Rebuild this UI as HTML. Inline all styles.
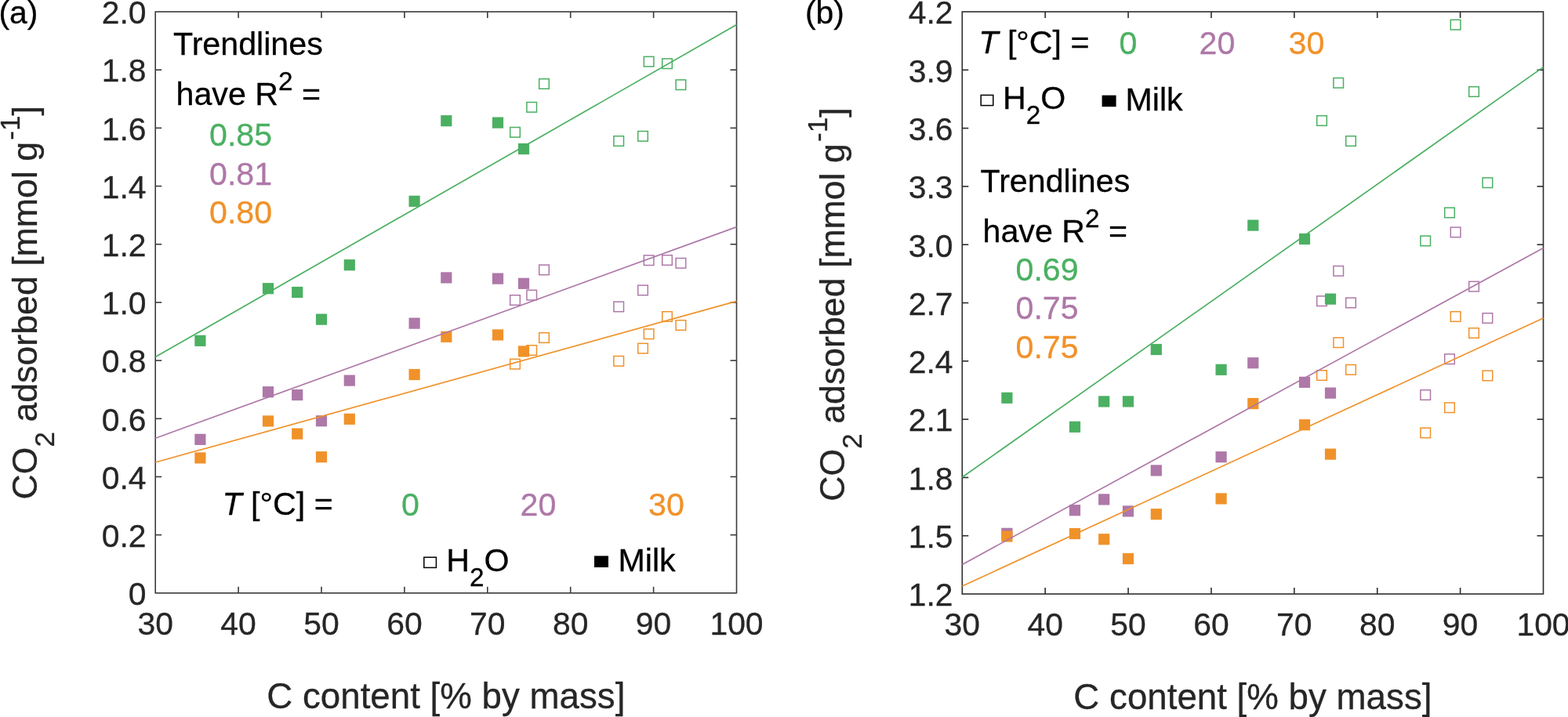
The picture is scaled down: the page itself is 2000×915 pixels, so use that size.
<!DOCTYPE html>
<html lang="en">
<head>
<meta charset="utf-8">
<title>CO2 adsorbed vs C content</title>
<style>
html,body{margin:0;padding:0;background:#fff;}
body{width:2000px;height:915px;overflow:hidden;}
svg{display:block;position:absolute;left:0;top:0;}
text{font-family:"Liberation Sans",Arial,Helvetica,sans-serif;}
.t{font-size:40.9px;fill:#262626;stroke:#262626;stroke-width:0.3px;}
.l{font-size:45.7px;fill:#262626;stroke:#262626;stroke-width:0.3px;}
.n{font-size:41.2px;fill:#000;stroke:#000;stroke-width:0.3px;}
.s{font-size:33.3px;}
.ls{font-size:35px;}
.yl{font-size:44.7px;fill:#262626;stroke:#262626;stroke-width:0.3px;}
.i{font-style:italic;}
</style>
</head>
<body>
<svg width="2000" height="915" viewBox="0 0 2000 915">
<rect x="0" y="0" width="2000" height="915" fill="#ffffff"/>

<g id="plot-a">
<rect x="650.70" y="162.50" width="12.6" height="12.6" fill="none" stroke="#4bb062" stroke-width="1.5"/>
<rect x="671.90" y="130.50" width="12.6" height="12.6" fill="none" stroke="#4bb062" stroke-width="1.5"/>
<rect x="687.70" y="100.70" width="12.6" height="12.6" fill="none" stroke="#4bb062" stroke-width="1.5"/>
<rect x="782.90" y="173.70" width="12.6" height="12.6" fill="none" stroke="#4bb062" stroke-width="1.5"/>
<rect x="813.70" y="167.50" width="12.6" height="12.6" fill="none" stroke="#4bb062" stroke-width="1.5"/>
<rect x="821.30" y="72.30" width="12.6" height="12.6" fill="none" stroke="#4bb062" stroke-width="1.5"/>
<rect x="844.70" y="74.90" width="12.6" height="12.6" fill="none" stroke="#4bb062" stroke-width="1.5"/>
<rect x="862.10" y="101.90" width="12.6" height="12.6" fill="none" stroke="#4bb062" stroke-width="1.5"/>
<rect x="650.70" y="376.70" width="12.6" height="12.6" fill="none" stroke="#ae78a8" stroke-width="1.5"/>
<rect x="671.90" y="370.30" width="12.6" height="12.6" fill="none" stroke="#ae78a8" stroke-width="1.5"/>
<rect x="687.70" y="338.10" width="12.6" height="12.6" fill="none" stroke="#ae78a8" stroke-width="1.5"/>
<rect x="782.90" y="385.10" width="12.6" height="12.6" fill="none" stroke="#ae78a8" stroke-width="1.5"/>
<rect x="813.70" y="364.10" width="12.6" height="12.6" fill="none" stroke="#ae78a8" stroke-width="1.5"/>
<rect x="821.30" y="325.90" width="12.6" height="12.6" fill="none" stroke="#ae78a8" stroke-width="1.5"/>
<rect x="844.70" y="325.70" width="12.6" height="12.6" fill="none" stroke="#ae78a8" stroke-width="1.5"/>
<rect x="862.10" y="329.50" width="12.6" height="12.6" fill="none" stroke="#ae78a8" stroke-width="1.5"/>
<rect x="650.70" y="458.30" width="12.6" height="12.6" fill="none" stroke="#f0922a" stroke-width="1.5"/>
<rect x="671.90" y="440.70" width="12.6" height="12.6" fill="none" stroke="#f0922a" stroke-width="1.5"/>
<rect x="687.70" y="424.70" width="12.6" height="12.6" fill="none" stroke="#f0922a" stroke-width="1.5"/>
<rect x="782.90" y="454.50" width="12.6" height="12.6" fill="none" stroke="#f0922a" stroke-width="1.5"/>
<rect x="813.70" y="438.30" width="12.6" height="12.6" fill="none" stroke="#f0922a" stroke-width="1.5"/>
<rect x="821.30" y="419.90" width="12.6" height="12.6" fill="none" stroke="#f0922a" stroke-width="1.5"/>
<rect x="844.70" y="397.70" width="12.6" height="12.6" fill="none" stroke="#f0922a" stroke-width="1.5"/>
<rect x="862.10" y="408.70" width="12.6" height="12.6" fill="none" stroke="#f0922a" stroke-width="1.5"/>
<rect x="248.30" y="427.70" width="14.2" height="14.2" fill="#4bb062"/>
<rect x="334.90" y="361.10" width="14.2" height="14.2" fill="#4bb062"/>
<rect x="372.10" y="365.90" width="14.2" height="14.2" fill="#4bb062"/>
<rect x="402.90" y="400.50" width="14.2" height="14.2" fill="#4bb062"/>
<rect x="438.70" y="331.10" width="14.2" height="14.2" fill="#4bb062"/>
<rect x="521.50" y="249.70" width="14.2" height="14.2" fill="#4bb062"/>
<rect x="562.20" y="147.10" width="14.2" height="14.2" fill="#4bb062"/>
<rect x="627.90" y="149.50" width="14.2" height="14.2" fill="#4bb062"/>
<rect x="660.90" y="182.90" width="14.2" height="14.2" fill="#4bb062"/>
<rect x="248.30" y="553.70" width="14.2" height="14.2" fill="#ae78a8"/>
<rect x="334.90" y="493.10" width="14.2" height="14.2" fill="#ae78a8"/>
<rect x="372.10" y="496.90" width="14.2" height="14.2" fill="#ae78a8"/>
<rect x="402.90" y="530.10" width="14.2" height="14.2" fill="#ae78a8"/>
<rect x="438.70" y="478.50" width="14.2" height="14.2" fill="#ae78a8"/>
<rect x="521.50" y="405.50" width="14.2" height="14.2" fill="#ae78a8"/>
<rect x="562.20" y="347.30" width="14.2" height="14.2" fill="#ae78a8"/>
<rect x="627.90" y="348.50" width="14.2" height="14.2" fill="#ae78a8"/>
<rect x="660.90" y="354.70" width="14.2" height="14.2" fill="#ae78a8"/>
<rect x="248.30" y="577.30" width="14.2" height="14.2" fill="#f0922a"/>
<rect x="334.90" y="530.30" width="14.2" height="14.2" fill="#f0922a"/>
<rect x="372.10" y="546.50" width="14.2" height="14.2" fill="#f0922a"/>
<rect x="402.90" y="576.10" width="14.2" height="14.2" fill="#f0922a"/>
<rect x="438.70" y="527.70" width="14.2" height="14.2" fill="#f0922a"/>
<rect x="521.50" y="470.90" width="14.2" height="14.2" fill="#f0922a"/>
<rect x="562.20" y="422.70" width="14.2" height="14.2" fill="#f0922a"/>
<rect x="627.90" y="420.30" width="14.2" height="14.2" fill="#f0922a"/>
<rect x="660.90" y="441.30" width="14.2" height="14.2" fill="#f0922a"/>
<rect x="198.2" y="15.0" width="741.30" height="741.80" fill="none" stroke="#3a3a3a" stroke-width="1.6"/>
<line x1="304.10" y1="756.8" x2="304.10" y2="748.8" stroke="#3a3a3a" stroke-width="1.6"/>
<line x1="304.10" y1="15.0" x2="304.10" y2="23.0" stroke="#3a3a3a" stroke-width="1.6"/>
<line x1="410.00" y1="756.8" x2="410.00" y2="748.8" stroke="#3a3a3a" stroke-width="1.6"/>
<line x1="410.00" y1="15.0" x2="410.00" y2="23.0" stroke="#3a3a3a" stroke-width="1.6"/>
<line x1="515.90" y1="756.8" x2="515.90" y2="748.8" stroke="#3a3a3a" stroke-width="1.6"/>
<line x1="515.90" y1="15.0" x2="515.90" y2="23.0" stroke="#3a3a3a" stroke-width="1.6"/>
<line x1="621.80" y1="756.8" x2="621.80" y2="748.8" stroke="#3a3a3a" stroke-width="1.6"/>
<line x1="621.80" y1="15.0" x2="621.80" y2="23.0" stroke="#3a3a3a" stroke-width="1.6"/>
<line x1="727.70" y1="756.8" x2="727.70" y2="748.8" stroke="#3a3a3a" stroke-width="1.6"/>
<line x1="727.70" y1="15.0" x2="727.70" y2="23.0" stroke="#3a3a3a" stroke-width="1.6"/>
<line x1="833.60" y1="756.8" x2="833.60" y2="748.8" stroke="#3a3a3a" stroke-width="1.6"/>
<line x1="833.60" y1="15.0" x2="833.60" y2="23.0" stroke="#3a3a3a" stroke-width="1.6"/>
<line x1="198.2" y1="89.18" x2="206.2" y2="89.18" stroke="#3a3a3a" stroke-width="1.6"/>
<line x1="939.5" y1="89.18" x2="931.5" y2="89.18" stroke="#3a3a3a" stroke-width="1.6"/>
<line x1="198.2" y1="163.36" x2="206.2" y2="163.36" stroke="#3a3a3a" stroke-width="1.6"/>
<line x1="939.5" y1="163.36" x2="931.5" y2="163.36" stroke="#3a3a3a" stroke-width="1.6"/>
<line x1="198.2" y1="237.54" x2="206.2" y2="237.54" stroke="#3a3a3a" stroke-width="1.6"/>
<line x1="939.5" y1="237.54" x2="931.5" y2="237.54" stroke="#3a3a3a" stroke-width="1.6"/>
<line x1="198.2" y1="311.72" x2="206.2" y2="311.72" stroke="#3a3a3a" stroke-width="1.6"/>
<line x1="939.5" y1="311.72" x2="931.5" y2="311.72" stroke="#3a3a3a" stroke-width="1.6"/>
<line x1="198.2" y1="385.90" x2="206.2" y2="385.90" stroke="#3a3a3a" stroke-width="1.6"/>
<line x1="939.5" y1="385.90" x2="931.5" y2="385.90" stroke="#3a3a3a" stroke-width="1.6"/>
<line x1="198.2" y1="460.08" x2="206.2" y2="460.08" stroke="#3a3a3a" stroke-width="1.6"/>
<line x1="939.5" y1="460.08" x2="931.5" y2="460.08" stroke="#3a3a3a" stroke-width="1.6"/>
<line x1="198.2" y1="534.26" x2="206.2" y2="534.26" stroke="#3a3a3a" stroke-width="1.6"/>
<line x1="939.5" y1="534.26" x2="931.5" y2="534.26" stroke="#3a3a3a" stroke-width="1.6"/>
<line x1="198.2" y1="608.44" x2="206.2" y2="608.44" stroke="#3a3a3a" stroke-width="1.6"/>
<line x1="939.5" y1="608.44" x2="931.5" y2="608.44" stroke="#3a3a3a" stroke-width="1.6"/>
<line x1="198.2" y1="682.62" x2="206.2" y2="682.62" stroke="#3a3a3a" stroke-width="1.6"/>
<line x1="939.5" y1="682.62" x2="931.5" y2="682.62" stroke="#3a3a3a" stroke-width="1.6"/>
<line x1="198.2" y1="455.6" x2="939.5" y2="31.6" stroke="#4bb062" stroke-width="1.7"/>
<line x1="198.2" y1="559.2" x2="939.5" y2="289.6" stroke="#ae78a8" stroke-width="1.7"/>
<line x1="198.2" y1="590.0" x2="939.5" y2="384.4" stroke="#f0922a" stroke-width="1.7"/>
<text transform="translate(198.20,809.70) scale(1,1.015)" class="t" text-anchor="middle">30</text>
<text transform="translate(304.10,809.70) scale(1,1.015)" class="t" text-anchor="middle">40</text>
<text transform="translate(410.00,809.70) scale(1,1.015)" class="t" text-anchor="middle">50</text>
<text transform="translate(515.90,809.70) scale(1,1.015)" class="t" text-anchor="middle">60</text>
<text transform="translate(621.80,809.70) scale(1,1.015)" class="t" text-anchor="middle">70</text>
<text transform="translate(727.70,809.70) scale(1,1.015)" class="t" text-anchor="middle">80</text>
<text transform="translate(833.60,809.70) scale(1,1.015)" class="t" text-anchor="middle">90</text>
<text transform="translate(939.50,809.70) scale(1,1.015)" class="t" text-anchor="middle">100</text>
<text transform="translate(186.50,30.30) scale(1,1.015)" class="t" text-anchor="end">2.0</text>
<text transform="translate(186.50,104.48) scale(1,1.015)" class="t" text-anchor="end">1.8</text>
<text transform="translate(186.50,178.66) scale(1,1.015)" class="t" text-anchor="end">1.6</text>
<text transform="translate(186.50,252.84) scale(1,1.015)" class="t" text-anchor="end">1.4</text>
<text transform="translate(186.50,327.02) scale(1,1.015)" class="t" text-anchor="end">1.2</text>
<text transform="translate(186.50,401.20) scale(1,1.015)" class="t" text-anchor="end">1.0</text>
<text transform="translate(186.50,475.38) scale(1,1.015)" class="t" text-anchor="end">0.8</text>
<text transform="translate(186.50,549.56) scale(1,1.015)" class="t" text-anchor="end">0.6</text>
<text transform="translate(186.50,623.74) scale(1,1.015)" class="t" text-anchor="end">0.4</text>
<text transform="translate(186.50,697.92) scale(1,1.015)" class="t" text-anchor="end">0.2</text>
<text transform="translate(186.50,772.10) scale(1,1.015)" class="t" text-anchor="end">0</text>
<text x="568.85" y="904" text-anchor="middle" class="l">C content [% by mass]</text>
<text x="-1.5" y="29.5" class="t" style="fill:#000;stroke:#000">(a)</text>
<text transform="translate(46.6,637.5) rotate(-90)" class="yl">CO<tspan class="ls" dy="22">2</tspan><tspan dy="-22"> adsorbed [mmol g</tspan><tspan class="ls" dy="-21.5" dx="2.2">-1</tspan><tspan dy="21.5">]</tspan></text>
<text x="221" y="70" class="n">Trendlines</text>
<text x="224.5" y="134" class="n">have R<tspan class="s" dy="-19.5">2</tspan><tspan dy="19.5"> =</tspan></text>
<text transform="translate(267.00,186.00) scale(1,1)" class="n" style="fill:#4bb062;stroke:#4bb062">0.85</text>
<text transform="translate(267.00,235.60) scale(1,1)" class="n" style="fill:#ae78a8;stroke:#ae78a8">0.81</text>
<text transform="translate(267.00,285.00) scale(1,1)" class="n" style="fill:#f0922a;stroke:#f0922a">0.80</text>
<text transform="translate(283.50,657.00) scale(1,1)" class="n"><tspan class="i">T</tspan> [°C] =</text>
<text transform="translate(512.00,658.00) scale(1,1)" class="n" style="fill:#4bb062;stroke:#4bb062">0</text>
<text transform="translate(663.50,658.00) scale(1,1)" class="n" style="fill:#ae78a8;stroke:#ae78a8">20</text>
<text transform="translate(827.00,658.00) scale(1,1)" class="n" style="fill:#f0922a;stroke:#f0922a">30</text>
<rect x="540.8" y="711.2" width="15.6" height="13.2" fill="none" stroke="#000" stroke-width="1.5"/>
<text transform="translate(569.20,728.60) scale(1,1)" class="n">H<tspan class="s" dy="19.5">2</tspan><tspan dy="-19.5">O</tspan></text>
<rect x="758" y="709.4" width="18" height="14.6" fill="#000"/>
<text x="788.5" y="728.6" class="n">Milk</text>
</g>
<g id="plot-b">
<rect x="1679.70" y="147.70" width="12.6" height="12.6" fill="none" stroke="#4bb062" stroke-width="1.5"/>
<rect x="1700.90" y="99.50" width="12.6" height="12.6" fill="none" stroke="#4bb062" stroke-width="1.5"/>
<rect x="1716.70" y="173.70" width="12.6" height="12.6" fill="none" stroke="#4bb062" stroke-width="1.5"/>
<rect x="1811.90" y="301.10" width="12.6" height="12.6" fill="none" stroke="#4bb062" stroke-width="1.5"/>
<rect x="1842.70" y="265.10" width="12.6" height="12.6" fill="none" stroke="#4bb062" stroke-width="1.5"/>
<rect x="1850.30" y="25.30" width="12.6" height="12.6" fill="none" stroke="#4bb062" stroke-width="1.5"/>
<rect x="1873.70" y="110.70" width="12.6" height="12.6" fill="none" stroke="#4bb062" stroke-width="1.5"/>
<rect x="1891.10" y="226.90" width="12.6" height="12.6" fill="none" stroke="#4bb062" stroke-width="1.5"/>
<rect x="1679.70" y="377.90" width="12.6" height="12.6" fill="none" stroke="#ae78a8" stroke-width="1.5"/>
<rect x="1700.90" y="339.50" width="12.6" height="12.6" fill="none" stroke="#ae78a8" stroke-width="1.5"/>
<rect x="1716.70" y="380.10" width="12.6" height="12.6" fill="none" stroke="#ae78a8" stroke-width="1.5"/>
<rect x="1811.90" y="497.70" width="12.6" height="12.6" fill="none" stroke="#ae78a8" stroke-width="1.5"/>
<rect x="1842.70" y="451.90" width="12.6" height="12.6" fill="none" stroke="#ae78a8" stroke-width="1.5"/>
<rect x="1850.30" y="290.10" width="12.6" height="12.6" fill="none" stroke="#ae78a8" stroke-width="1.5"/>
<rect x="1873.70" y="359.30" width="12.6" height="12.6" fill="none" stroke="#ae78a8" stroke-width="1.5"/>
<rect x="1891.10" y="399.70" width="12.6" height="12.6" fill="none" stroke="#ae78a8" stroke-width="1.5"/>
<rect x="1679.70" y="472.70" width="12.6" height="12.6" fill="none" stroke="#f0922a" stroke-width="1.5"/>
<rect x="1700.90" y="430.90" width="12.6" height="12.6" fill="none" stroke="#f0922a" stroke-width="1.5"/>
<rect x="1716.70" y="465.50" width="12.6" height="12.6" fill="none" stroke="#f0922a" stroke-width="1.5"/>
<rect x="1811.90" y="546.10" width="12.6" height="12.6" fill="none" stroke="#f0922a" stroke-width="1.5"/>
<rect x="1842.70" y="513.90" width="12.6" height="12.6" fill="none" stroke="#f0922a" stroke-width="1.5"/>
<rect x="1850.30" y="397.70" width="12.6" height="12.6" fill="none" stroke="#f0922a" stroke-width="1.5"/>
<rect x="1873.70" y="418.70" width="12.6" height="12.6" fill="none" stroke="#f0922a" stroke-width="1.5"/>
<rect x="1891.10" y="473.10" width="12.6" height="12.6" fill="none" stroke="#f0922a" stroke-width="1.5"/>
<rect x="1277.30" y="500.70" width="14.2" height="14.2" fill="#4bb062"/>
<rect x="1363.90" y="537.70" width="14.2" height="14.2" fill="#4bb062"/>
<rect x="1401.10" y="505.30" width="14.2" height="14.2" fill="#4bb062"/>
<rect x="1431.90" y="505.30" width="14.2" height="14.2" fill="#4bb062"/>
<rect x="1467.70" y="438.90" width="14.2" height="14.2" fill="#4bb062"/>
<rect x="1550.50" y="464.70" width="14.2" height="14.2" fill="#4bb062"/>
<rect x="1591.20" y="280.50" width="14.2" height="14.2" fill="#4bb062"/>
<rect x="1656.90" y="297.90" width="14.2" height="14.2" fill="#4bb062"/>
<rect x="1689.90" y="374.50" width="14.2" height="14.2" fill="#4bb062"/>
<rect x="1277.30" y="673.70" width="14.2" height="14.2" fill="#ae78a8"/>
<rect x="1363.90" y="644.10" width="14.2" height="14.2" fill="#ae78a8"/>
<rect x="1401.10" y="630.30" width="14.2" height="14.2" fill="#ae78a8"/>
<rect x="1431.90" y="645.30" width="14.2" height="14.2" fill="#ae78a8"/>
<rect x="1467.70" y="593.30" width="14.2" height="14.2" fill="#ae78a8"/>
<rect x="1550.50" y="576.10" width="14.2" height="14.2" fill="#ae78a8"/>
<rect x="1591.20" y="456.10" width="14.2" height="14.2" fill="#ae78a8"/>
<rect x="1656.90" y="480.70" width="14.2" height="14.2" fill="#ae78a8"/>
<rect x="1689.90" y="494.50" width="14.2" height="14.2" fill="#ae78a8"/>
<rect x="1277.30" y="677.40" width="14.2" height="14.2" fill="#f0922a"/>
<rect x="1363.90" y="673.90" width="14.2" height="14.2" fill="#f0922a"/>
<rect x="1401.10" y="681.10" width="14.2" height="14.2" fill="#f0922a"/>
<rect x="1431.90" y="705.90" width="14.2" height="14.2" fill="#f0922a"/>
<rect x="1467.70" y="649.10" width="14.2" height="14.2" fill="#f0922a"/>
<rect x="1550.50" y="629.30" width="14.2" height="14.2" fill="#f0922a"/>
<rect x="1591.20" y="507.90" width="14.2" height="14.2" fill="#f0922a"/>
<rect x="1656.90" y="535.10" width="14.2" height="14.2" fill="#f0922a"/>
<rect x="1689.90" y="572.50" width="14.2" height="14.2" fill="#f0922a"/>
<rect x="1227.3" y="15.0" width="741.20" height="743.00" fill="none" stroke="#2c2c2c" stroke-width="1.6"/>
<line x1="1333.19" y1="758.0" x2="1333.19" y2="750.0" stroke="#2c2c2c" stroke-width="1.6"/>
<line x1="1333.19" y1="15.0" x2="1333.19" y2="23.0" stroke="#2c2c2c" stroke-width="1.6"/>
<line x1="1439.07" y1="758.0" x2="1439.07" y2="750.0" stroke="#2c2c2c" stroke-width="1.6"/>
<line x1="1439.07" y1="15.0" x2="1439.07" y2="23.0" stroke="#2c2c2c" stroke-width="1.6"/>
<line x1="1544.96" y1="758.0" x2="1544.96" y2="750.0" stroke="#2c2c2c" stroke-width="1.6"/>
<line x1="1544.96" y1="15.0" x2="1544.96" y2="23.0" stroke="#2c2c2c" stroke-width="1.6"/>
<line x1="1650.84" y1="758.0" x2="1650.84" y2="750.0" stroke="#2c2c2c" stroke-width="1.6"/>
<line x1="1650.84" y1="15.0" x2="1650.84" y2="23.0" stroke="#2c2c2c" stroke-width="1.6"/>
<line x1="1756.73" y1="758.0" x2="1756.73" y2="750.0" stroke="#2c2c2c" stroke-width="1.6"/>
<line x1="1756.73" y1="15.0" x2="1756.73" y2="23.0" stroke="#2c2c2c" stroke-width="1.6"/>
<line x1="1862.61" y1="758.0" x2="1862.61" y2="750.0" stroke="#2c2c2c" stroke-width="1.6"/>
<line x1="1862.61" y1="15.0" x2="1862.61" y2="23.0" stroke="#2c2c2c" stroke-width="1.6"/>
<line x1="1227.3" y1="89.30" x2="1235.3" y2="89.30" stroke="#2c2c2c" stroke-width="1.6"/>
<line x1="1968.5" y1="89.30" x2="1960.5" y2="89.30" stroke="#2c2c2c" stroke-width="1.6"/>
<line x1="1227.3" y1="163.60" x2="1235.3" y2="163.60" stroke="#2c2c2c" stroke-width="1.6"/>
<line x1="1968.5" y1="163.60" x2="1960.5" y2="163.60" stroke="#2c2c2c" stroke-width="1.6"/>
<line x1="1227.3" y1="237.90" x2="1235.3" y2="237.90" stroke="#2c2c2c" stroke-width="1.6"/>
<line x1="1968.5" y1="237.90" x2="1960.5" y2="237.90" stroke="#2c2c2c" stroke-width="1.6"/>
<line x1="1227.3" y1="312.20" x2="1235.3" y2="312.20" stroke="#2c2c2c" stroke-width="1.6"/>
<line x1="1968.5" y1="312.20" x2="1960.5" y2="312.20" stroke="#2c2c2c" stroke-width="1.6"/>
<line x1="1227.3" y1="386.50" x2="1235.3" y2="386.50" stroke="#2c2c2c" stroke-width="1.6"/>
<line x1="1968.5" y1="386.50" x2="1960.5" y2="386.50" stroke="#2c2c2c" stroke-width="1.6"/>
<line x1="1227.3" y1="460.80" x2="1235.3" y2="460.80" stroke="#2c2c2c" stroke-width="1.6"/>
<line x1="1968.5" y1="460.80" x2="1960.5" y2="460.80" stroke="#2c2c2c" stroke-width="1.6"/>
<line x1="1227.3" y1="535.10" x2="1235.3" y2="535.10" stroke="#2c2c2c" stroke-width="1.6"/>
<line x1="1968.5" y1="535.10" x2="1960.5" y2="535.10" stroke="#2c2c2c" stroke-width="1.6"/>
<line x1="1227.3" y1="609.40" x2="1235.3" y2="609.40" stroke="#2c2c2c" stroke-width="1.6"/>
<line x1="1968.5" y1="609.40" x2="1960.5" y2="609.40" stroke="#2c2c2c" stroke-width="1.6"/>
<line x1="1227.3" y1="683.70" x2="1235.3" y2="683.70" stroke="#2c2c2c" stroke-width="1.6"/>
<line x1="1968.5" y1="683.70" x2="1960.5" y2="683.70" stroke="#2c2c2c" stroke-width="1.6"/>
<line x1="1227.3" y1="609.0" x2="1968.5" y2="85.6" stroke="#4bb062" stroke-width="1.7"/>
<line x1="1227.3" y1="720.4" x2="1968.5" y2="316.4" stroke="#ae78a8" stroke-width="1.7"/>
<line x1="1227.3" y1="748.0" x2="1968.5" y2="406.0" stroke="#f0922a" stroke-width="1.7"/>
<text transform="translate(1227.30,810.90) scale(1,1.015)" class="t" text-anchor="middle">30</text>
<text transform="translate(1333.19,810.90) scale(1,1.015)" class="t" text-anchor="middle">40</text>
<text transform="translate(1439.07,810.90) scale(1,1.015)" class="t" text-anchor="middle">50</text>
<text transform="translate(1544.96,810.90) scale(1,1.015)" class="t" text-anchor="middle">60</text>
<text transform="translate(1650.84,810.90) scale(1,1.015)" class="t" text-anchor="middle">70</text>
<text transform="translate(1756.73,810.90) scale(1,1.015)" class="t" text-anchor="middle">80</text>
<text transform="translate(1862.61,810.90) scale(1,1.015)" class="t" text-anchor="middle">90</text>
<text transform="translate(1968.50,810.90) scale(1,1.015)" class="t" text-anchor="middle">100</text>
<text transform="translate(1215.60,30.30) scale(1,1.015)" class="t" text-anchor="end">4.2</text>
<text transform="translate(1215.60,104.60) scale(1,1.015)" class="t" text-anchor="end">3.9</text>
<text transform="translate(1215.60,178.90) scale(1,1.015)" class="t" text-anchor="end">3.6</text>
<text transform="translate(1215.60,253.20) scale(1,1.015)" class="t" text-anchor="end">3.3</text>
<text transform="translate(1215.60,327.50) scale(1,1.015)" class="t" text-anchor="end">3.0</text>
<text transform="translate(1215.60,401.80) scale(1,1.015)" class="t" text-anchor="end">2.7</text>
<text transform="translate(1215.60,476.10) scale(1,1.015)" class="t" text-anchor="end">2.4</text>
<text transform="translate(1215.60,550.40) scale(1,1.015)" class="t" text-anchor="end">2.1</text>
<text transform="translate(1215.60,624.70) scale(1,1.015)" class="t" text-anchor="end">1.8</text>
<text transform="translate(1215.60,699.00) scale(1,1.015)" class="t" text-anchor="end">1.5</text>
<text transform="translate(1215.60,773.30) scale(1,1.015)" class="t" text-anchor="end">1.2</text>
<text x="1597.90" y="905" text-anchor="middle" class="l">C content [% by mass]</text>
<text x="1027" y="29.5" class="t" style="fill:#000;stroke:#000">(b)</text>
<text transform="translate(1076.7,639.7) rotate(-90)" class="yl">CO<tspan class="ls" dy="22">2</tspan><tspan dy="-22"> adsorbed [mmol g</tspan><tspan class="ls" dy="-21.5" dx="2.2">-1</tspan><tspan dy="21.5">]</tspan></text>
<text transform="translate(1248.30,68.00) scale(1,1)" class="n"><tspan class="i">T</tspan> [°C] =</text>
<text transform="translate(1427.50,69.00) scale(1,1)" class="n" style="fill:#4bb062;stroke:#4bb062">0</text>
<text transform="translate(1529.50,69.00) scale(1,1)" class="n" style="fill:#ae78a8;stroke:#ae78a8">20</text>
<text transform="translate(1643.50,69.00) scale(1,1)" class="n" style="fill:#f0922a;stroke:#f0922a">30</text>
<rect x="1251.2" y="121.4" width="15.6" height="13.2" fill="none" stroke="#000" stroke-width="1.5"/>
<text transform="translate(1279.00,138.60) scale(1,1)" class="n">H<tspan class="s" dy="19.5">2</tspan><tspan dy="-19.5">O</tspan></text>
<rect x="1405.6" y="121.6" width="18" height="14.6" fill="#000"/>
<text x="1435.5" y="140.6" class="n">Milk</text>
<text x="1250.5" y="245.4" class="n">Trendlines</text>
<text x="1253.5" y="309.4" class="n">have R<tspan class="s" dy="-19.5">2</tspan><tspan dy="19.5"> =</tspan></text>
<text transform="translate(1295.50,358.00) scale(1,1)" class="n" style="fill:#4bb062;stroke:#4bb062">0.69</text>
<text transform="translate(1295.50,407.40) scale(1,1)" class="n" style="fill:#ae78a8;stroke:#ae78a8">0.75</text>
<text transform="translate(1295.50,457.00) scale(1,1)" class="n" style="fill:#f0922a;stroke:#f0922a">0.75</text>
</g>
</svg>
</body>
</html>
